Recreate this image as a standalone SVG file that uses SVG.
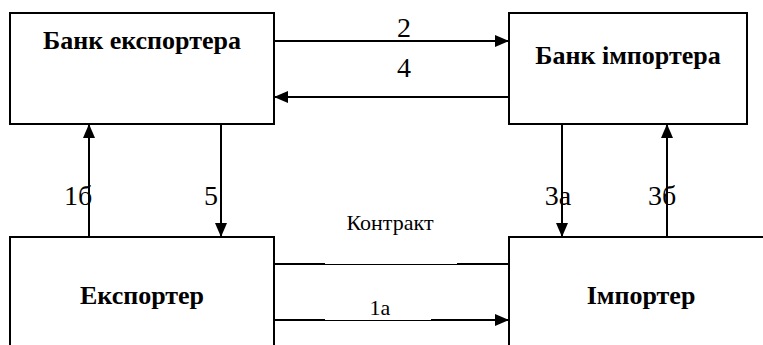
<svg xmlns="http://www.w3.org/2000/svg" width="763" height="345" viewBox="0 0 763 345">
<defs>
<marker id="ah" markerWidth="14" markerHeight="12" refX="14" refY="6" orient="auto" markerUnits="userSpaceOnUse">
<path d="M0,0 L14,6 L0,12 Z" fill="#000"/>
</marker>
<style>
.box{fill:#fff;stroke:#000;stroke-width:2}
text{font-family:'Liberation Serif','Times New Roman',Times,'DejaVu Serif',serif;fill:#000;text-anchor:middle}
.t{font-weight:bold;font-size:26px}
.n{font-size:28px}
.s{font-size:22px}
.c{stroke:#000;stroke-width:2;fill:none}
.thin{stroke:#000;stroke-width:1;fill:none}
</style>
</defs>
<rect width="763" height="345" fill="#fff"/>
<g id="bank-exporter"><rect class="box" x="10" y="13" width="264" height="111"/><text class="t" x="142" y="49">Банк експортера</text></g>
<g id="bank-importer"><rect class="box" x="509" y="13" width="238" height="111"/><text class="t" x="628" y="64">Банк імпортера</text></g>
<g id="exporter"><rect class="box" x="10" y="237" width="264" height="130"/><text class="t" x="142" y="304">Експортер</text></g>
<g id="importer"><rect class="box" x="509" y="237" width="264" height="130"/><text class="t" x="641" y="304">Імпортер</text></g>
<g id="connectors">
<line class="c" x1="274" y1="41" x2="509" y2="41" marker-end="url(#ah)"/>
<text class="n" x="404" y="37">2</text>
<line class="c" x1="509" y1="97" x2="274" y2="97" marker-end="url(#ah)"/>
<text class="n" x="404" y="77">4</text>
<line class="c" x1="89" y1="237" x2="89" y2="124" marker-end="url(#ah)"/>
<text class="n" x="78" y="205">1б</text>
<line class="c" x1="221" y1="124" x2="221" y2="237" marker-end="url(#ah)"/>
<text class="n" x="211" y="205">5</text>
<line class="c" x1="562" y1="124" x2="562" y2="237" marker-end="url(#ah)"/>
<text class="n" x="558" y="205">3а</text>
<line class="c" x1="667" y1="237" x2="667" y2="124" marker-end="url(#ah)"/>
<text class="n" x="662" y="205">3б</text>
<text class="s" x="390" y="230" font-size="23">Контракт</text>
<line class="c" x1="274" y1="264" x2="325" y2="264"/>
<line class="thin" x1="325" y1="264.5" x2="457" y2="264.5"/>
<line class="c" x1="457" y1="264" x2="509" y2="264"/>
<line class="c" x1="274" y1="320" x2="325" y2="320"/>
<line class="thin" x1="325" y1="320.5" x2="431" y2="320.5"/>
<line class="c" x1="431" y1="320" x2="509" y2="320" marker-end="url(#ah)"/>
<text class="s" x="380" y="315">1а</text>
</g>
</svg>
